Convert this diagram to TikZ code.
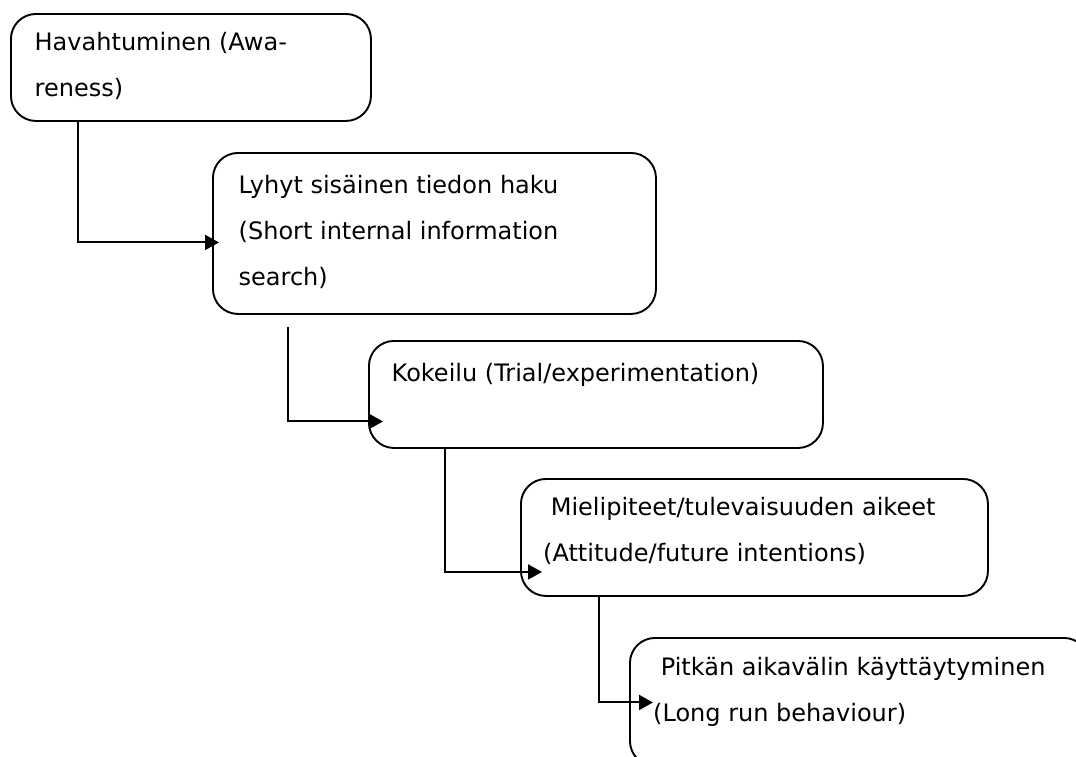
\documentclass[tikz,border=0pt]{standalone}
\usepackage{fontspec}
\setmainfont{DejaVu Sans}
\usetikzlibrary{positioning,arrows.meta}

\begin{document}
\begin{tikzpicture}[
    x=1pt, y=-1pt,
    stage/.style={rectangle, rounded corners=25pt, draw=black, fill=white,
                  line width=1.9pt, anchor=north west, inner sep=0pt},
    txt/.style={anchor=north west, inner sep=0pt, align=left,
                font=\fontsize{24}{46}\selectfont},
    flow/.style={line width=2pt, -{Triangle[length=14pt,width=15pt]}}
]
\useasboundingbox (0,0) rectangle (1076,756);

\node[stage, minimum width=360pt, minimum height=107pt] (s1) at (10,13) {};
\node[stage, minimum width=443pt, minimum height=161pt] (s2) at (212,152) {};
\node[stage, minimum width=454pt, minimum height=107pt] (s3) at (368,340) {};
\node[stage, minimum width=467pt, minimum height=117pt] (s4) at (520,478) {};
\node[stage, minimum width=459pt, minimum height=128pt] (s5) at (629,637) {};

\node[txt] (t1) at (34.5,17.8) {\strut Havahtuminen (Awa-\\reness)};
\node[txt] (t2) at (238.5,160.8) {\strut Lyhyt sisäinen tiedon haku\\(Short internal information\\search)};
\node[txt] (t3) at (391.5,349.5) {\strut Kokeilu (Trial/experimentation)};
\node[txt] (t4) at (543,483.5) {\strut\hspace*{.318em}Mielipiteet/tulevaisuuden aikeet\\(Attitude/future intentions)};
\node[txt] (t5) at (653,642.8) {\strut\hspace*{.318em}Pitkän aikavälin käyttäytyminen\\(Long run behaviour)};

\draw[flow] ([xshift=68pt]s1.south west) |- ([xshift=7pt,yshift=-9pt]s2.west);
\draw[flow] ([xshift=76pt,yshift=-12pt]s2.south west) |- ([xshift=15pt,yshift=-27pt]s3.west);
\draw[flow] ([xshift=77pt]s3.south west) |- ([xshift=22pt,yshift=-34.5pt]s4.west);
\draw[flow] ([xshift=79pt]s4.south west) |- ([xshift=24pt,yshift=-0.5pt]s5.west);

\end{tikzpicture}
\end{document}
